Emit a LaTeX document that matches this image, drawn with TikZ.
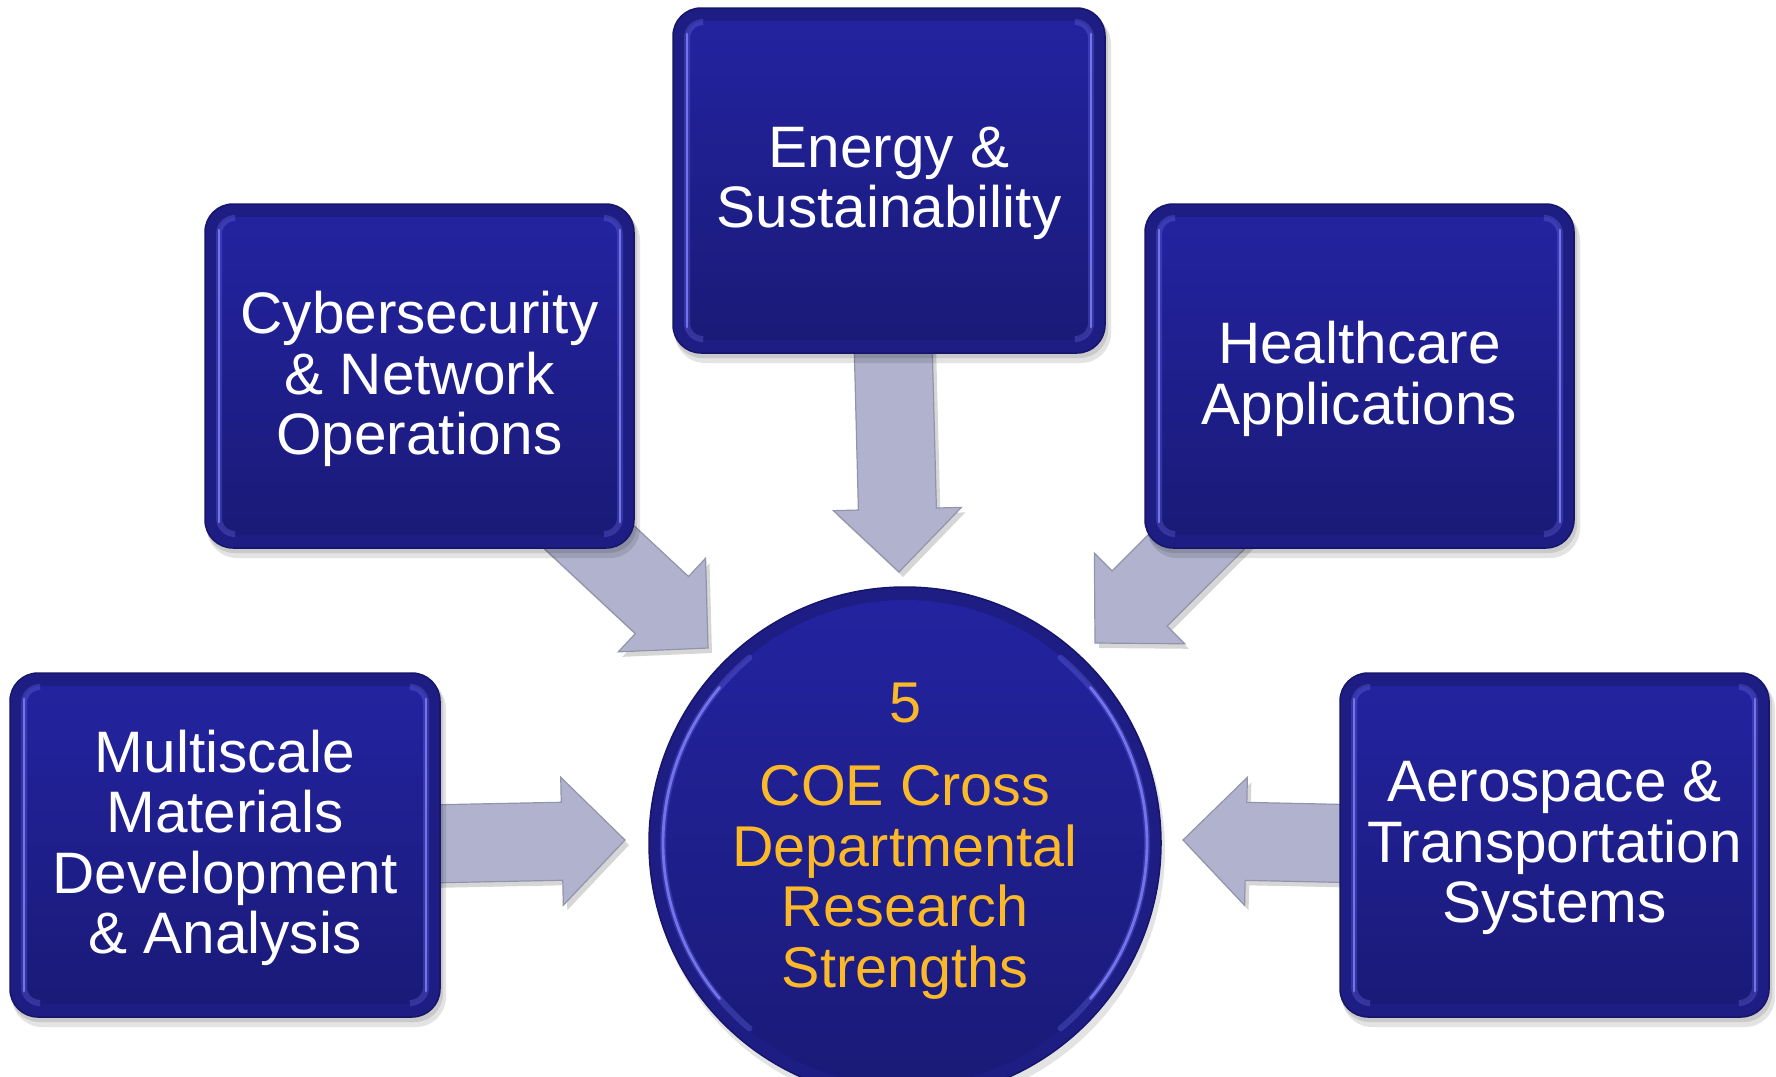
\documentclass[tikz,border=0pt]{standalone}
\usepackage{fontspec}
\setmainfont{Liberation Sans}
\usetikzlibrary{calc}
\pgfdeclarelayer{back}
\pgfsetlayers{back,main}

\definecolor{boxdark}{HTML}{1A1A78}
\definecolor{boxtop}{HTML}{2323A0}
\definecolor{rimbase}{HTML}{1D1D84}
\definecolor{rimlight}{HTML}{7373EC}
\definecolor{boxedge}{HTML}{15156A}
\definecolor{gold}{HTML}{FBB829}
\definecolor{arrowfill}{HTML}{B1B3CE}
\definecolor{arrowedge}{HTML}{9294AC}

\tikzset{
  boxtext/.style={text=white, align=center, inner sep=0pt,
    font=\fontsize{58.5}{60.5}\selectfont},
  circtext/.style={text=gold, align=center, inner sep=0pt,
    font=\fontsize{57.5}{60.5}\selectfont},
  arrowbody/.style={fill=arrowfill, draw=arrowedge, line width=1.2pt, line join=miter},
  arrowshadow/.style={fill=black, opacity=0.16},
  boxshadow/.style={fill=black, opacity=0.11},
  hlsoft/.style={draw=rimlight, line width=6pt, opacity=0.3, line cap=round},
  hlsharp/.style={draw=rimlight, line width=2.8pt, line cap=round},
}

% #1 name, #2 x1, #3 y1, #4 x2, #5 y2, #6 text
\newcommand\fancybox[6]{%
  \fill[boxshadow, rounded corners=30pt] (#2+2,#3+6) rectangle (#4+6,#5+10);
  \fill[boxshadow, rounded corners=28pt] (#2+1,#3+3) rectangle (#4+3,#5+5);
  \filldraw[rounded corners=28pt, fill=rimbase, draw=boxedge, line width=1.5pt]
    (#2,#3) rectangle (#4,#5);
  \shade[rounded corners=18pt, top color=boxtop, bottom color=boxdark]
    (#2+13,#3+13) rectangle (#4-13,#5-13);
  \draw[hlsoft, rounded corners=16pt] (#2+28,#3+14) -- (#2+14,#3+14) -- (#2+14,#5-14) -- (#2+28,#5-14);
  \draw[hlsoft, rounded corners=16pt] (#4-28,#3+14) -- (#4-14,#3+14) -- (#4-14,#5-14) -- (#4-28,#5-14);
  \draw[hlsharp] (#2+14,#3+26) -- (#2+14,#5-26);
  \draw[hlsharp] (#4-14,#3+26) -- (#4-14,#5-26);
  \node[boxtext] (#1) at ({(#2+#4)/2},{(#3+#5)/2+3}) {#6};
}

% #1 start node, #2 tip coordinate
\newcommand\blockarrow[2]{%
  \coordinate (hb) at ($(#2)!63pt!(#1.center)$);
  \fill[arrowshadow] ([shift={(4,5)}]$(#1.center)!39pt!90:(#2)$) -- ([shift={(4,5)}]$(hb)!39pt!90:(#2)$)
    -- ([shift={(4,5)}]$(hb)!64pt!90:(#2)$) -- ([shift={(4,5)}]#2)
    -- ([shift={(4,5)}]$(hb)!64pt!-90:(#2)$) -- ([shift={(4,5)}]$(hb)!39pt!-90:(#2)$)
    -- ([shift={(4,5)}]$(#1.center)!39pt!-90:(#2)$) -- cycle;
  \filldraw[arrowbody] ($(#1.center)!39pt!90:(#2)$) -- ($(hb)!39pt!90:(#2)$)
    -- ($(hb)!64pt!90:(#2)$) -- (#2)
    -- ($(hb)!64pt!-90:(#2)$) -- ($(hb)!39pt!-90:(#2)$)
    -- ($(#1.center)!39pt!-90:(#2)$) -- cycle;
}

\begin{document}
\begin{tikzpicture}[x=1pt, y=-1pt]
\useasboundingbox (0,0) rectangle (1776,1076);

% boxes
\fancybox{multi}{10}{673}{440}{1017}{Multiscale\\Materials\\Development\\\& Analysis}
\fancybox{cyber}{205}{204}{634}{548}{Cybersecurity\\\& Network\\Operations}
\fancybox{energy}{673}{8}{1105}{353}{Energy \&\\Sustainability}
\fancybox{health}{1145}{204}{1574}{548}{Healthcare\\Applications}
\fancybox{aero}{1340}{673}{1769}{1017}{Aerospace \&\\Transportation\\Systems}

% central circle
\fill[boxshadow] (908,850) circle (257pt);
\filldraw[fill=rimbase, draw=boxedge, line width=1.5pt] (905,843) circle (256pt);
\shade[top color=boxtop, bottom color=boxdark] (905,843) circle (243pt);
\draw[hlsoft] ([shift={(130:242pt)}]905,843) arc[start angle=130, end angle=230, radius=242pt];
\draw[hlsoft] ([shift={(-50:242pt)}]905,843) arc[start angle=-50, end angle=50, radius=242pt];
\draw[hlsharp] ([shift={(140:242pt)}]905,843) arc[start angle=140, end angle=220, radius=242pt];
\draw[hlsharp] ([shift={(-40:242pt)}]905,843) arc[start angle=-40, end angle=40, radius=242pt];
\node[circtext] (core) at (905,841) {5\\[23pt]COE Cross\\Departmental\\Research\\Strengths};

% arrow tips
\coordinate (tmulti) at (625,840);
\coordinate (tcyber) at (708,648);
\coordinate (tenergy) at (899,572);
\coordinate (thealth) at (1095,643);
\coordinate (taero) at (1183,840);

\begin{pgfonlayer}{back}
\blockarrow{multi}{tmulti}
\blockarrow{cyber}{tcyber}
\blockarrow{energy}{tenergy}
\blockarrow{health}{thealth}
\blockarrow{aero}{taero}
\end{pgfonlayer}
\end{tikzpicture}
\end{document}
